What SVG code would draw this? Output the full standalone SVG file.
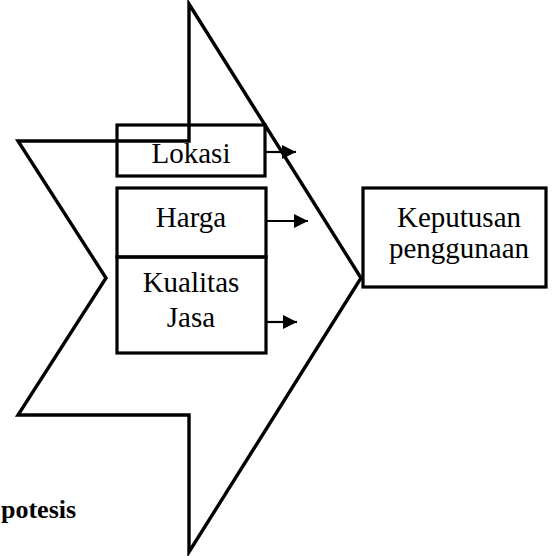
<svg xmlns="http://www.w3.org/2000/svg" width="552" height="556" viewBox="0 0 552 556">
<defs>
<style>
.box{fill:none;stroke:#000;stroke-width:3.2}
.lbl{font-family:"Liberation Serif","Times New Roman",serif;font-size:29px;fill:#000;text-anchor:middle}
.bold{font-family:"Liberation Serif","Times New Roman",serif;font-size:26px;font-weight:bold;fill:#000}
.conn{stroke:#000;stroke-width:2.2;fill:none}
</style>
<marker id="ah" markerUnits="userSpaceOnUse" markerWidth="16" markerHeight="14" refX="14" refY="7" orient="auto">
<path d="M0,0 L14,7 L0,14 Z" fill="#000"/>
</marker>
</defs>
<rect width="552" height="556" fill="#fff"/>
<g id="big-arrow">
<polygon points="189,4 361,278 189,552 189,415 18,415 106,278 18,141 189,141" fill="none" stroke="#000" stroke-width="3.4" stroke-linejoin="miter"/>
</g>
<g id="lokasi">
<rect class="box" x="117" y="125" width="148" height="51"/>
<text class="lbl" x="191" y="163">Lokasi</text>
</g>
<g id="harga">
<rect class="box" x="117" y="188" width="149" height="69"/>
<text class="lbl" x="191" y="227">Harga</text>
</g>
<g id="kualitas">
<rect class="box" x="117" y="257" width="149" height="96"/>
<text class="lbl" x="191" y="292">Kualitas</text>
<text class="lbl" x="191" y="327">Jasa</text>
</g>
<g id="keputusan">
<rect class="box" x="363" y="188" width="183" height="99"/>
<text class="lbl" x="459" y="227">Keputusan</text>
<text class="lbl" x="459" y="258">penggunaan</text>
</g>
<g id="connectors">
<line class="conn" x1="266" y1="152" x2="296" y2="152" marker-end="url(#ah)"/>
<line class="conn" x1="267" y1="221" x2="308" y2="221" marker-end="url(#ah)"/>
<line class="conn" x1="267" y1="322" x2="297" y2="322" marker-end="url(#ah)"/>
</g>
<text class="bold" x="1" y="518">potesis</text>
</svg>
